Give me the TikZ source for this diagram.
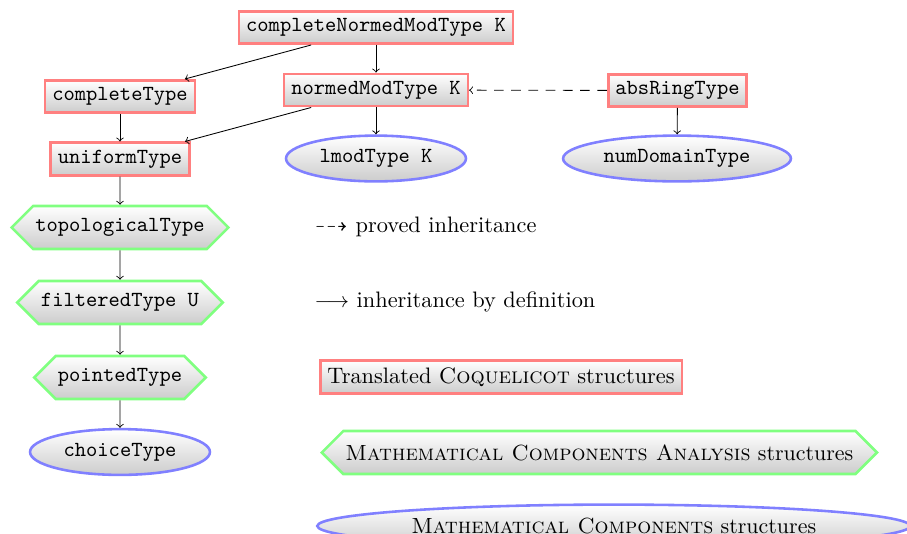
\documentclass[tikz,border=0pt]{standalone}
\usepackage{amsmath,amssymb}
\usetikzlibrary{shapes.geometric,shapes.symbols}

\begin{document}
\begin{tikzpicture}[x=0.465pt, y=-0.465pt,
    coq/.style={rectangle, draw=red!50, very thick, top color=white, bottom color=black!20},
    mca/.style={signal, signal to=west and east, draw=green!50, very thick, inner xsep=1pt, minimum height=20pt, top color=white, bottom color=black!20},
    mc/.style={ellipse, draw=blue!50, very thick, top color=white, bottom color=black!20},
    struct/.style={font=\ttfamily},
    legend/.style={anchor=west, font=\fontsize{10.4}{12}\selectfont},
    sclegend/.style={anchor=west, font=\fontsize{10.2}{12}\selectfont}]
    \useasboundingbox (0, 0) rectangle (907, 533);
    \node[coq, struct] (cnmt) at (376, 27.5) {completeNormedModType K};
    \node[coq, struct] (complete) at (120, 96.5) {completeType};
    \node[coq, struct] (normed) at (376, 90) {normedModType K};
    \node[coq, struct] (absring) at (677.5, 90.5) {absRingType};
    \node[coq, struct] (uniform) at (120, 159) {uniformType};
    \node[mc, struct] (lmod) at (376, 158.5) {lmodType K};
    \node[mc, struct] (numdomain) at (677, 158.5) {numDomainType};
    \node[mca, struct] (topological) at (120, 227.5) {topologicalType};
    \node[mca, struct] (filtered) at (120, 302.5) {filteredType U};
    \node[mca, struct] (pointed) at (120, 377.5) {pointedType};
    \node[mc, struct] (choice) at (120, 452) {choiceType};
    \draw[->] (cnmt) -- (complete);
    \draw[->] (cnmt) -- (normed);
    \draw[->] (complete) -- (uniform);
    \draw[->] (normed) -- (uniform);
    \draw[->] (normed) -- (lmod);
    \draw[->] (absring) -- (numdomain);
    \draw[->, dash pattern=on 4.5pt off 3.5pt] (absring) -- (normed);
    \draw[->] (uniform) -- (topological);
    \draw[->] (topological) -- (filtered);
    \draw[->] (filtered) -- (pointed);
    \draw[->] (pointed) -- (choice);
    \node[legend] (proved) at (307, 227) {$\dashrightarrow$ proved inheritance};
    \node[legend] (bydef) at (307, 302) {$\longrightarrow$ inheritance by definition};
    \node[legend, coq] (coqkey) at (319, 377) {Translated \textsc{Coquelicot} structures};
    \node[sclegend, mca] (mcakey) at (320, 452.5) {\textsc{Mathematical Components Analysis} structures};
    \node[sclegend, mc] (mckey) at (316, 526) {\textsc{Mathematical Components} structures};
\end{tikzpicture}
\end{document}
